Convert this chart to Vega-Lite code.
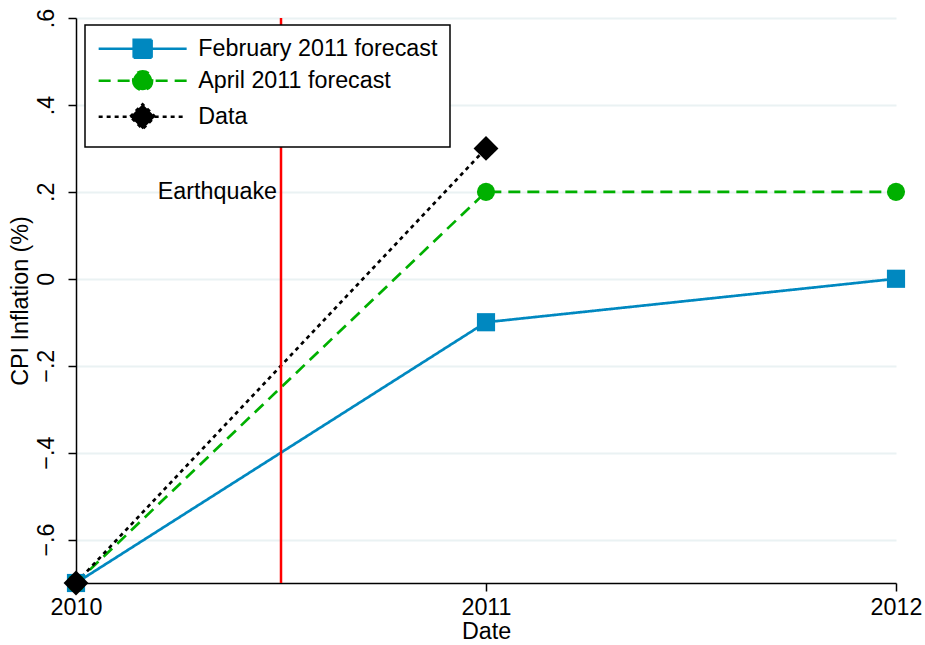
{
  "$schema": "https://vega.github.io/schema/vega-lite/v6.json",
  "autosize": "none",
  "width": 820,
  "height": 565,
  "padding": {"left": 76, "top": 18, "right": 29, "bottom": 62},
  "background": "white",
  "config": {
    "view": {"stroke": null},
    "font": "Liberation Sans",
    "axis": {"labelFont": "Liberation Sans", "titleFont": "Liberation Sans", "labelColor": "black", "titleColor": "black", "domainColor": "black", "tickColor": "black", "titleFontWeight": "normal"}
  },
  "data": {
    "values": [
      {"year": 2010, "value": -0.7, "series": "February 2011 forecast"},
      {"year": 2011, "value": -0.1, "series": "February 2011 forecast"},
      {"year": 2012, "value": 0.0, "series": "February 2011 forecast"},
      {"year": 2010, "value": -0.7, "series": "April 2011 forecast"},
      {"year": 2011, "value": 0.2, "series": "April 2011 forecast"},
      {"year": 2012, "value": 0.2, "series": "April 2011 forecast"},
      {"year": 2010, "value": -0.7, "series": "Data"},
      {"year": 2011, "value": 0.3, "series": "Data"}
    ]
  },
  "encoding": {
    "x": {
      "field": "year", "type": "quantitative",
      "scale": {"domain": [2010, 2012], "nice": false, "zero": false},
      "axis": {"tickCount": 2, "format": "d", "title": "Date", "labelFontSize": 23.3, "titleFontSize": 23.3, "grid": false, "tickSize": 8, "labelPadding": 5, "titlePadding": 2, "domainWidth": 1.5, "tickWidth": 1.5, "labelFlush": false, "labelOverlap": false}
    },
    "y": {"field": "value", "type": "quantitative",
      "scale": {"domain": [-0.7, 0.6], "nice": false, "zero": false},
      "axis": {"values": [-0.6, -0.4, -0.2, 0, 0.2, 0.4, 0.6], "title": "CPI Inflation (%)", "titleX": -44, "labelAngle": -90, "labelAlign": "center", "labelBaseline": "bottom", "labelFontSize": 23.3, "titleFontSize": 23.3, "tickSize": 8, "labelPadding": 10, "domainWidth": 1.5, "tickWidth": 1.5, "grid": true, "gridColor": "#eaf2f3", "gridWidth": 2,
        "labelExpr": "datum.value == 0 ? '0' : replace(format(datum.value, '.1f'), '0.', '.')"}},
    "color": {"field": "series", "type": "nominal", "sort": ["February 2011 forecast", "April 2011 forecast", "Data"], "scale": {"domain": ["February 2011 forecast", "April 2011 forecast", "Data"], "range": ["#0088c0", "#00b000", "#000000"]},
      "legend": {
        "orient": "none", "legendX": 9, "legendY": 7, "title": null,
        "strokeColor": "black", "fillColor": "white", "padding": 12,
        "labelFontSize": 23.3, "labelFont": "Liberation Sans", "labelColor": "black", "labelLimit": 500,
        "labelExpr": "datum.label + '\u00a0\u00a0'",
        "symbolSize": 400, "symbolOffset": 34, "labelOffset": 44, "rowPadding": 3,
        "encode": {
          "legend": {"update": {"strokeWidth": {"value": 1.5}}},
          "symbols": {"update": {
            "shape": {"signal": "datum.value == 'Data' ? 'M-4.4,0H4.4M-1.25,0L0,-1.25L1.25,0L0,1.25Z' : (datum.value == 'April 2011 forecast' ? 'M-4.4,0H4.4M-0.95,0A0.95,0.95 0 1,0 0.95,0A0.95,0.95 0 1,0 -0.95,0Z' : 'M-4.4,0H4.4M-0.9,-0.9H0.9V0.9H-0.9Z')"},
            "stroke": {"signal": "datum.value == 'Data' ? '#000000' : (datum.value == 'April 2011 forecast' ? '#00b000' : '#0088c0')"},
            "fill": {"signal": "datum.value == 'Data' ? '#000000' : (datum.value == 'April 2011 forecast' ? '#00b000' : '#0088c0')"},
            "strokeDash": {"signal": "datum.value == 'Data' ? [4, 4] : (datum.value == 'April 2011 forecast' ? [12, 7] : [1, 0])"},
            "strokeWidth": {"value": 2.5},
            "opacity": {"value": 1}
          }}
        }
      }
    }
  },
  "layer": [
    {
      "mark": {"type": "line", "strokeWidth": 2.7},
      "encoding": {
        "strokeDash": {"field": "series", "type": "nominal", "scale": {"domain": ["February 2011 forecast", "April 2011 forecast", "Data"], "range": [[1, 0], [12, 7], [4, 4]]}, "legend": null},
        "order": {"field": "year"}
      }
    },
    {
      "transform": [{"filter": "datum.series == 'February 2011 forecast'"}],
      "mark": {"type": "point", "filled": true, "opacity": 1, "shape": "square", "size": 330}
    },
    {
      "transform": [{"filter": "datum.series == 'April 2011 forecast'"}],
      "mark": {"type": "point", "filled": true, "opacity": 1, "shape": "circle", "size": 330}
    },
    {
      "transform": [{"filter": "datum.series == 'Data'"}],
      "mark": {"type": "point", "filled": true, "opacity": 1, "shape": "diamond", "size": 620}
    },
    {
      "data": {"values": [{"year": 2010.5, "label": "Earthquake", "yl": 0.2}]},
      "mark": {"type": "rule", "color": "#ff0000", "strokeWidth": 2.5},
      "encoding": {"color": null, "y": null}
    },
    {
      "data": {"values": [{"year": 2010.5, "label": "Earthquake", "yl": 0.2}]},
      "mark": {"type": "text", "align": "right", "baseline": "middle", "dx": -4, "fontSize": 23.3, "font": "Liberation Sans", "color": "black"},
      "encoding": {"y": {"field": "yl", "type": "quantitative"}, "text": {"field": "label"}, "color": null}
    }
  ]
}
